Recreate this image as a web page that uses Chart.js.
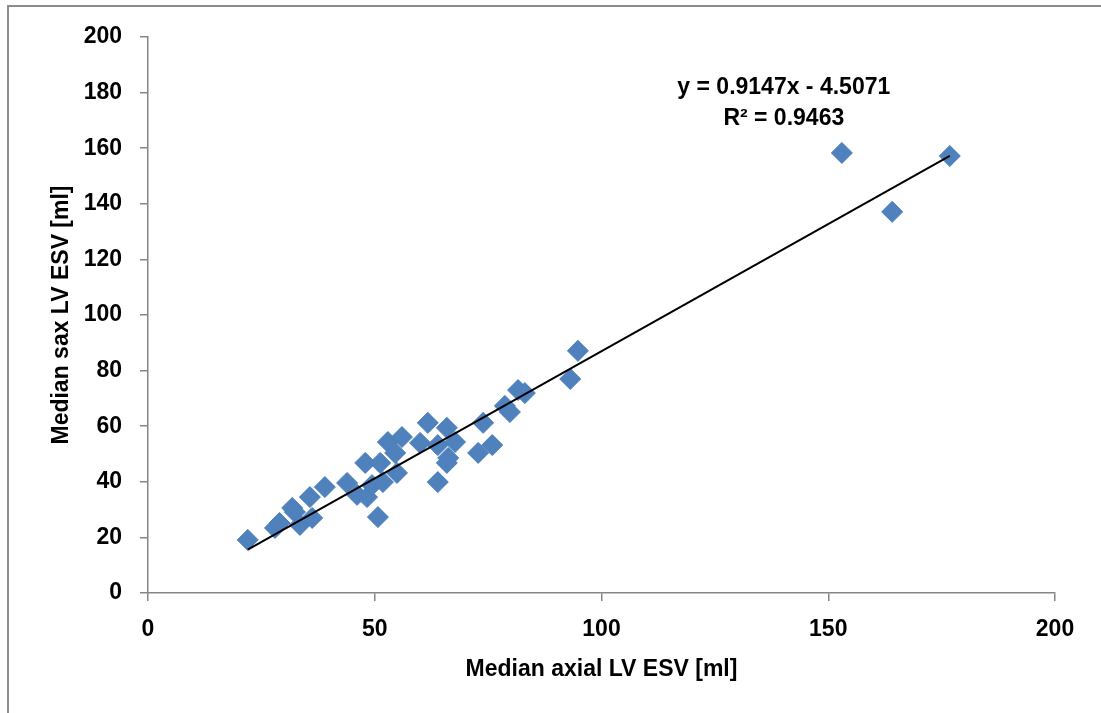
<!DOCTYPE html>
<html>
<head>
<meta charset="utf-8">
<script src="https://cdn.jsdelivr.net/npm/chart.js@4.4.1/dist/chart.umd.min.js"></script>
<style>
  html, body { margin: 0; padding: 0; background: #ffffff; }
  #wrap { position: relative; width: 1101px; height: 713px; }
  canvas { display: block; }
</style>
</head>
<body>
<div id="wrap"><canvas id="c" width="1101" height="713"></canvas></div>
<script>
// ---- Data ----
const axialESV = [22, 28, 29, 31.8, 32.4, 33.5, 36.2, 35.7, 39, 43.9, 46.1, 48.3, 49.4, 47.9, 51.2, 51.8, 50.7,
  52.9, 56, 54.5, 54.9, 60, 61.7, 63.9, 65.9, 66.2, 65.9, 67.7, 63.9, 72.8, 73.9, 75.9, 78.7, 79.8, 81.6, 83.1,
  93.1, 94.8, 153, 164.1, 176.8];
const saxESV = [19.1, 23.4, 25.2, 30.6, 29.1, 24.5, 27, 34.5, 38.1, 39.6, 35.3, 34.5, 38.8, 46.8, 46.8, 39.9, 27.3,
  54.3, 56.1, 50.4, 43.2, 54, 61.2, 53.2, 59.4, 48.6, 46.8, 54.3, 39.9, 50.4, 61.2, 53.2, 67.3, 65.1, 73, 71.9,
  77, 87.1, 158.3, 137.1, 157.2];
const xTicks = [0, 50, 100, 150, 200];
const yTicks = [0, 20, 40, 60, 80, 100, 120, 140, 160, 180, 200];
const trendSlope = 0.9147;
const trendIntercept = -4.5071;
const trendText = ['y = 0.9147x - 4.5071', 'R\u00B2 = 0.9463'];
const xTitle = 'Median axial LV ESV [ml]';
const yTitle = 'Median sax LV ESV [ml]';

const points = axialESV.map((x, i) => ({ x: x, y: saxESV[i] }));
const xMin = Math.min(...axialESV), xMax = Math.max(...axialESV);
const trendPts = [xMin, xMax].map(x => ({ x: x, y: trendSlope * x + trendIntercept }));

const FONT = "'Liberation Sans', Arial, sans-serif";
const FS = 23;
const AXIS_GRAY = '#868686';

const framePlugin = {
  id: 'frame',
  beforeDraw(chart) {
    const ctx = chart.ctx;
    ctx.save();
    ctx.fillStyle = '#ffffff';
    ctx.fillRect(0, 0, chart.width, chart.height);
    ctx.strokeStyle = '#8c8c8c';
    ctx.lineWidth = 2;
    ctx.beginPath();
    ctx.moveTo(8, chart.height);
    ctx.lineTo(8, 6);
    ctx.lineTo(chart.width, 6);
    ctx.stroke();
    ctx.restore();
  }
};

const eqPlugin = {
  id: 'eqLabel',
  afterDatasetsDraw(chart, args, opts) {
    const ctx = chart.ctx;
    const xs = chart.scales.x, ys = chart.scales.y;
    const px = xs.getPixelForValue(opts.x);
    ctx.save();
    ctx.font = 'bold ' + FS + 'px ' + FONT;
    ctx.fillStyle = '#000000';
    ctx.textAlign = 'center';
    ctx.textBaseline = 'middle';
    trendText.forEach((t, i) => {
      const py = ys.getPixelForValue(opts.y) + i * opts.lineGap;
      ctx.fillText(t, px, py);
    });
    ctx.restore();
  }
};

new Chart(document.getElementById('c'), {
  type: 'scatter',
  data: {
    datasets: [
      {
        type: 'line',
        label: 'Linear trend',
        data: trendPts,
        borderColor: '#000000',
        borderWidth: 2,
        pointRadius: 0,
        fill: false,
        tension: 0,
        order: 0
      },
      {
        label: 'ESV',
        data: points,
        pointStyle: 'rectRot',
        pointRadius: 10.5,
        pointHoverRadius: 10.5,
        backgroundColor: '#4F81BD',
        borderColor: '#4A7EBB',
        borderWidth: 1,
        order: 1
      }
    ]
  },
  options: {
    responsive: false,
    animation: false,
    devicePixelRatio: 1,
    layout: { padding: { left: 0, right: 46, top: 37, bottom: 0 } },
    plugins: {
      legend: { display: false },
      tooltip: { enabled: false },
      eqLabel: { x: 140.2, y: 181.7, lineGap: 31 }
    },
    scales: {
      x: {
        type: 'linear',
        min: 0, max: 200,
        afterBuildTicks: s => { s.ticks = xTicks.map(v => ({ value: v })); },
        afterFit: s => { s.height = 120; },
        grid: { display: true, drawOnChartArea: false, drawTicks: true, tickLength: 8, color: AXIS_GRAY, lineWidth: 1.5 },
        border: { display: true, color: AXIS_GRAY, width: 1.5 },
        ticks: { color: '#000000', font: { family: FONT, size: FS, weight: 'bold' }, padding: 15, maxRotation: 0 },
        title: { display: true, text: xTitle, color: '#000000', font: { family: FONT, size: FS, weight: 'bold' }, padding: { top: 0, bottom: 30 } }
      },
      y: {
        type: 'linear',
        min: 0, max: 200,
        afterBuildTicks: s => { s.ticks = yTicks.map(v => ({ value: v })); },
        afterFit: s => { s.width = 148; },
        grid: { display: true, drawOnChartArea: false, drawTicks: true, tickLength: 8, color: AXIS_GRAY, lineWidth: 1.5 },
        border: { display: true, color: AXIS_GRAY, width: 1.5 },
        ticks: { color: '#000000', font: { family: FONT, size: FS, weight: 'bold' }, padding: 18 },
        title: { display: true, text: yTitle, color: '#000000', font: { family: FONT, size: FS, weight: 'bold' }, padding: { top: 48, bottom: 0 } }
      }
    }
  },
  plugins: [framePlugin, eqPlugin]
});
</script>
</body>
</html>
